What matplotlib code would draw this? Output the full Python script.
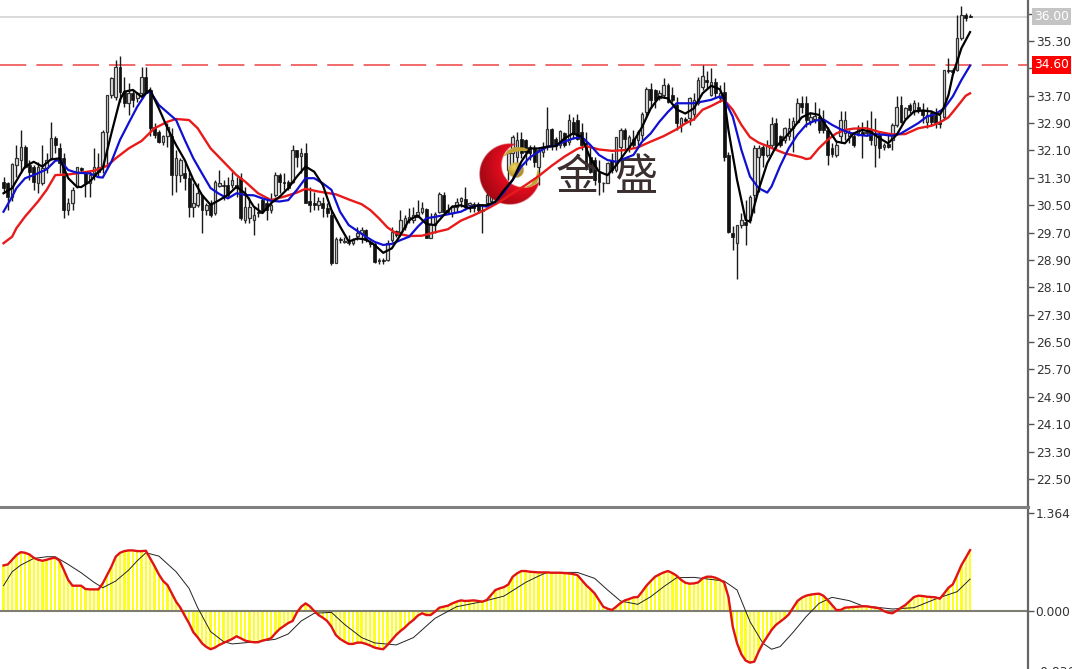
import numpy as np
import matplotlib
matplotlib.use("Agg")
from matplotlib import pyplot as plt
from matplotlib.patches import Polygon
from matplotlib.transforms import Affine2D, blended_transform_factory

# candles, one bar at a time
highs = [31.34,31.19,31.73,32.26,32.70,32.26,31.82,31.68,31.77,32.26,32.02,32.94,32.51,32.31,32.02,30.70,31.04,31.63,31.63,31.48,
 31.53,32.16,32.02,32.70,33.72,34.26,34.75,34.86,34.26,34.06,33.87,33.82,34.55,34.55,33.97,32.90,32.70,32.55,32.90,32.75,
 32.12,31.87,31.82,31.48,31.14,31.14,30.80,30.56,30.65,31.24,31.53,31.24,31.34,31.48,31.34,31.43,31.04,30.75,30.46,30.56,
 30.70,30.75,30.85,31.48,31.43,31.43,31.24,32.26,32.12,32.16,32.31,31.04,30.90,30.75,30.75,30.56,30.36,29.58,29.58,
 29.58,29.63,29.53,29.87,29.87,29.82,29.48,29.43,28.95,28.95,29.48,29.87,29.79,30.36,30.21,30.41,30.46,30.65,30.60,30.41,
 30.26,30.31,30.89,30.89,30.55,30.50,30.70,30.75,31.04,30.60,30.60,30.60,30.55,30.89,30.85,31.04,31.14,31.33,32.11,32.55,
 32.65,32.65,32.45,32.26,32.26,32.21,32.36,33.38,32.75,32.50,32.70,32.65,33.18,33.09,33.18,32.89,32.65,32.26,31.92,31.82,
 31.19,31.77,32.02,32.50,32.75,32.75,32.55,32.70,32.70,33.23,33.96,34.06,33.91,33.87,34.21,34.06,33.96,33.67,33.09,33.09,
 33.67,33.77,34.26,34.60,34.41,34.50,34.21,34.02,34.11,32.07,29.88,29.93,30.27,30.66,30.80,32.26,32.26,32.26,32.41,33.09,
 33.04,32.56,32.80,33.04,33.09,33.63,33.68,33.68,33.19,33.53,33.33,33.29,32.80,32.31,32.36,33.24,33.24,32.70,32.65,32.85,
 32.94,32.99,33.24,33.04,32.65,32.31,32.56,32.90,33.68,33.68,33.38,33.48,33.58,33.53,33.48,33.38,33.29,33.33,33.14,34.45,
 34.80,34.50,36.06,36.31,36.11,36.09]
lows = [30.85,30.36,30.61,31.34,31.43,31.58,31.24,30.95,30.85,31.09,31.43,31.82,32.02,31.43,30.12,30.22,30.36,31.00,31.43,30.75,
 30.75,31.24,31.34,31.43,31.58,33.63,33.58,33.53,33.38,33.14,33.38,33.53,33.63,33.77,32.51,32.46,32.31,32.26,32.21,30.80,
 30.90,31.19,30.95,30.17,30.17,30.46,29.68,30.22,30.17,30.22,31.04,30.65,30.75,31.00,30.75,30.07,29.97,29.97,29.63,30.17,
 30.27,30.07,30.27,30.75,30.85,30.95,30.95,31.14,31.63,31.43,30.56,30.31,30.36,30.36,30.17,30.17,28.76,28.80,29.39,
 29.39,29.34,29.34,29.48,29.39,29.43,29.29,28.82,28.78,28.78,28.88,29.43,29.58,29.68,29.77,29.97,29.97,30.16,30.24,29.53,
 29.53,29.68,30.26,30.24,30.26,30.16,30.31,30.46,30.36,30.31,30.31,30.26,29.68,30.55,30.55,30.60,30.65,30.94,31.24,31.53,
 31.72,31.87,31.67,31.82,31.63,31.09,31.92,32.11,32.11,32.11,32.16,32.21,32.26,32.45,32.40,32.11,31.53,31.43,31.09,30.80,
 30.89,31.14,31.43,31.48,31.72,32.11,32.06,32.21,32.21,32.40,33.09,33.33,33.33,33.57,33.62,33.48,33.52,32.70,32.65,32.89,
 32.84,32.99,33.43,33.87,33.92,33.68,33.63,33.53,31.78,29.68,29.19,28.34,29.83,29.34,29.97,30.27,30.90,31.63,31.92,32.21,
 32.12,32.21,32.31,32.41,32.07,32.90,33.19,32.80,32.85,32.90,32.60,32.60,31.68,31.92,31.92,32.31,32.41,32.31,32.21,32.51,
 31.87,32.51,32.26,31.63,31.87,32.12,32.17,32.12,32.80,32.90,32.99,33.19,33.14,33.19,32.90,32.75,32.85,32.75,32.75,32.99,
 34.36,34.36,34.41,35.33,35.87,35.99]
opens = [31.19,31.14,30.75,31.68,31.82,32.21,31.68,31.63,31.14,31.14,31.58,31.87,32.46,32.16,31.87,30.36,30.56,31.04,31.58,31.43,
 31.14,31.43,31.48,31.63,32.65,33.72,33.67,34.55,33.82,33.48,33.77,33.63,33.77,34.24,33.87,32.78,32.65,32.36,32.51,32.51,
 31.38,31.38,31.43,31.29,30.46,30.51,30.80,30.36,30.56,30.27,31.06,31.09,31.09,31.09,31.09,31.29,30.07,30.12,30.07,30.31,
 30.65,30.56,30.36,30.80,31.38,31.19,31.19,31.19,32.12,31.94,32.02,30.61,30.56,30.51,30.56,30.41,30.22,28.80,29.51,
 29.43,29.43,29.40,29.60,29.70,29.79,29.43,29.37,28.87,28.90,28.90,29.48,29.75,29.73,29.87,30.07,30.07,30.16,30.31,30.38,
 29.55,29.92,30.31,30.80,30.36,30.26,30.46,30.63,30.67,30.50,30.55,30.50,30.36,30.57,30.63,30.89,30.85,31.09,31.53,32.02,
 31.92,32.45,32.42,32.19,32.16,31.63,32.06,32.19,32.72,32.45,32.26,32.60,32.36,32.94,32.99,32.65,32.31,31.92,31.82,31.43,
 31.14,31.16,31.82,31.53,32.21,32.70,32.21,32.45,32.40,32.55,33.23,33.91,33.87,33.62,33.72,34.01,33.72,33.43,32.84,33.01,
 33.04,33.18,33.48,33.97,34.16,33.72,34.11,33.63,33.82,31.97,29.68,29.41,29.93,30.02,30.07,30.80,31.92,32.21,31.97,32.26,
 32.90,32.51,32.41,32.51,32.75,32.94,33.48,33.48,32.97,33.01,33.09,32.99,32.70,32.17,31.97,32.51,32.60,32.51,32.51,32.62,
 32.65,32.60,32.70,32.26,32.56,32.19,32.29,32.41,32.85,33.43,33.04,33.43,33.29,33.38,33.29,32.94,33.19,33.14,32.94,33.09,
 34.45,34.44,34.45,35.38,36.06,36.03]
closes = [31.00,30.75,31.71,31.87,32.21,31.63,31.48,31.19,31.63,31.58,31.82,32.46,32.26,31.73,30.36,30.56,30.95,31.61,31.53,31.14,
 31.38,31.63,31.63,32.65,33.72,34.21,34.55,33.82,33.48,33.77,33.58,33.77,34.24,33.82,32.75,32.55,32.36,32.53,32.78,31.38,
 31.87,31.82,31.29,30.46,30.56,30.85,30.36,30.51,30.22,31.19,31.14,31.07,30.80,31.24,31.00,30.12,30.46,30.46,30.22,30.27,
 30.36,30.36,30.51,31.38,31.19,31.14,31.00,32.12,31.92,32.04,30.56,30.51,30.51,30.61,30.41,30.27,28.80,29.51,29.49,
 29.46,29.41,29.48,29.68,29.79,29.48,29.37,28.85,28.90,28.88,29.40,29.73,29.63,30.07,30.12,30.16,30.21,30.31,30.41,29.55,
 29.95,30.24,30.83,30.31,30.31,30.46,30.60,30.70,30.44,30.57,30.41,30.36,30.32,30.80,30.77,30.70,31.04,31.28,32.02,32.50,
 32.40,32.02,32.06,32.02,31.77,32.11,32.21,32.72,32.26,32.23,32.68,32.26,32.99,32.60,32.45,32.26,31.58,31.48,31.24,31.19,
 31.16,31.74,31.53,32.50,32.70,32.45,32.50,32.26,32.65,33.18,33.91,33.57,33.57,33.77,34.01,33.52,33.57,32.89,33.04,32.97,
 33.62,33.57,34.16,34.28,34.11,34.11,33.77,33.77,31.92,29.73,29.57,29.93,30.07,29.93,30.75,32.17,32.17,31.97,32.26,32.88,
 32.26,32.26,32.75,32.75,32.97,33.50,33.38,32.99,33.09,33.11,32.70,32.70,31.97,32.00,32.26,32.99,32.99,32.65,32.26,32.72,
 32.56,32.65,32.41,32.56,32.17,32.26,32.21,32.85,33.38,32.94,33.33,33.29,33.48,33.29,33.14,33.14,32.94,32.90,32.88,34.44,
 34.41,34.38,35.38,36.06,35.96,36.01]

# moving averages, picked at every second or third bar
fast_bars = [0,2,4,5,7,9,11,13,14,15,17,18,20,22,23,25,27,28,30,32,34,36,38,40,42,44,46,48,50,52,54,56,58,60,62,64,66,68,70,72,74,76,78,80,
 82,84,86,88,90,92,94,96,98,100,102,104,106,108,110,112,114,116,118,120,122,124,126,128,130,132,134,136,138,140,142,144,146,148,150,152,154,156,158,160,
 162,164,166,167,168,170,172,173,175,177,179,181,183,185,187,189,191,193,195,197,199,201,203,205,207,209,211,213,215,217,218,219,220,221,222,224]
fast_ma = [30.85,31.00,31.43,31.63,31.77,31.63,31.84,31.87,31.58,31.29,31.04,31.03,31.19,31.48,31.58,32.60,33.58,33.82,33.87,33.67,33.87,33.33,32.75,32.26,31.82,31.24,30.80,30.51,30.65,30.80,31.04,30.85,30.46,30.27,30.56,30.75,31.00,31.34,31.63,31.48,31.09,30.36,29.88,29.44,
 29.53,29.50,29.34,29.11,29.24,29.63,30.07,30.20,29.95,29.92,30.21,30.46,30.50,30.41,30.50,30.50,30.60,30.94,31.24,31.77,32.16,32.16,32.21,32.23,32.45,32.60,32.50,31.87,31.48,31.38,31.67,32.02,32.36,32.79,33.33,33.67,33.62,33.30,33.18,33.33,
 33.77,33.99,33.89,33.63,32.70,31.24,30.07,30.02,30.95,31.73,32.21,32.46,32.75,33.07,33.19,33.14,32.75,32.36,32.31,32.60,32.70,32.65,32.46,32.31,32.56,32.99,33.24,33.27,33.24,33.14,33.38,33.72,34.31,34.70,35.09,35.56]

mid_bars = [0,2,3,5,7,10,12,13,15,17,20,22,23,25,27,29,31,33,34,36,38,40,42,44,46,48,50,52,54,56,58,60,62,64,66,68,70,72,74,76,78,80,82,
 84,86,88,90,92,94,96,98,100,102,104,106,108,110,112,114,116,118,120,122,124,126,128,130,132,134,136,138,140,142,144,146,148,150,152,154,156,158,160,
 162,164,166,167,169,171,173,175,177,178,180,182,184,186,188,190,192,194,196,198,200,202,204,206,208,210,212,214,216,218,220,222,224]
mid_ma = [30.31,30.75,31.00,31.29,31.38,31.55,31.80,31.82,31.53,31.45,31.43,31.32,31.31,31.77,32.41,32.90,33.38,33.77,33.82,33.43,33.21,32.99,32.41,31.87,31.43,31.00,30.83,30.70,30.85,30.80,30.79,30.70,30.63,30.61,30.65,30.95,31.29,31.29,31.14,30.95,30.31,29.92,29.75,
 29.58,29.43,29.34,29.37,29.48,29.58,29.87,30.12,30.16,30.21,30.26,30.31,30.44,30.50,30.46,30.60,30.89,31.24,31.63,31.90,32.06,32.21,32.24,32.36,32.45,32.50,32.26,31.97,31.82,31.77,31.87,31.97,32.36,32.60,32.94,33.23,33.48,33.48,33.48,
 33.53,33.58,33.68,33.60,33.09,32.12,31.34,31.00,30.87,31.05,31.65,32.17,32.56,32.85,32.97,33.01,32.85,32.72,32.62,32.56,32.53,32.58,32.56,32.53,32.60,32.75,32.90,33.09,33.17,33.33,33.68,34.16,34.58]

slow_bars = [0,2,3,5,8,10,12,15,18,21,24,26,29,32,35,38,40,43,45,48,51,54,56,59,62,65,68,70,73,77,80,83,
 85,87,89,91,94,97,100,103,106,109,112,115,118,121,124,127,130,133,135,138,141,144,147,150,153,156,158,160,
 162,164,166,167,169,171,173,175,177,179,181,183,185,186,187,189,191,193,195,197,200,203,206,209,212,215,217,219,221,223,224]
slow_ma = [29.39,29.58,29.83,30.17,30.61,30.95,31.38,31.40,31.45,31.51,31.65,31.87,32.16,32.38,32.75,32.94,33.02,32.99,32.75,32.16,31.77,31.38,31.19,30.85,30.65,30.75,30.87,30.98,30.90,30.82,30.67,30.53,
 30.36,30.12,29.85,29.68,29.60,29.61,29.71,29.80,30.05,30.21,30.39,30.60,30.85,31.09,31.35,31.65,31.92,32.15,32.23,32.13,32.09,32.11,32.19,32.36,32.52,32.72,32.89,33.01,
 33.29,33.40,33.53,33.58,33.29,32.85,32.49,32.33,32.23,32.12,32.02,31.96,31.90,31.85,31.87,32.17,32.41,32.60,32.70,32.74,32.75,32.64,32.57,32.58,32.75,32.82,32.92,33.07,33.38,33.70,33.77]

# lower panel
macd = [.634,.648,.713,.778,.819,.810,.787,.741,.713,.699,.713,.731,.741,.699,.569,.431,.352,.352,.352,.306,.301,.301,.301,.384,.500,
 .616,.755,.810,.833,.843,.843,.833,.833,.838,.731,.625,.509,.417,.361,.245,.130,.046,-.065,-.171,-.296,-.366,-.449,-.500,-.532,-.509,
 -.472,-.444,-.417,-.389,-.352,-.380,-.412,-.426,-.435,-.435,-.412,-.398,-.380,-.310,-.250,-.208,-.167,-.139,-.019,.060,.106,.065,0,-.056,-.093,
 -.139,-.218,-.333,-.389,-.426,-.458,-.458,-.440,-.440,-.458,-.481,-.509,-.523,-.532,-.472,-.403,-.333,-.278,-.231,-.171,-.125,-.065,-.032,-.056,-.056,
 -.009,.046,.060,.074,.106,.130,.148,.139,.144,.148,.139,.130,.153,.222,.292,.315,.333,.370,.477,.523,.556,.556,.546,.542,.537,
 .537,.537,.532,.532,.532,.528,.523,.514,.500,.431,.361,.306,.245,.153,.060,.032,.014,.060,.111,.148,.167,.190,.194,.269,.352,
 .417,.477,.509,.537,.556,.528,.491,.435,.394,.380,.384,.398,.454,.477,.477,.463,.435,.398,.199,-.218,-.449,-.602,-.690,-.718,-.704,
 -.565,-.449,-.356,-.264,-.194,-.148,-.102,-.046,.046,.139,.185,.213,.227,.236,.241,.213,.153,.083,.014,.014,.046,.051,.056,.060,.065,
 .065,.056,.046,.037,0,-.023,-.032,.005,.046,.083,.139,.194,.213,.208,.199,.194,.190,.171,.245,.324,.370,.500,.639,.741,.847]
signal_bars = [0,2,4,7,10,12,15,18,21,23,26,29,31,33,36,40,43,45,48,51,53,58,63,66,69,72,76,79,83,86,91,95,100,105,111,116,121,124,
 126,133,137,140,143,147,150,153,156,160,167,170,173,176,178,180,183,186,189,192,196,199,206,211,216,221,224]
signal = [.352,.546,.639,.731,.755,.755,.648,.532,.398,.324,.417,.569,.699,.810,.764,.546,.315,.046,-.287,-.426,-.458,-.431,-.394,-.319,-.139,-.032,-.019,-.185,-.370,-.444,-.472,-.370,-.102,.060,.130,.208,.398,.486,
 .537,.537,.454,.292,.139,.093,.199,.338,.463,.468,.417,.292,-.148,-.449,-.532,-.495,-.296,-.079,.106,.190,.144,.074,.028,.046,.167,.269,.444]

price_ticks = [36.10,35.30,34.50,33.70,32.90,32.10,31.30,30.50,29.70,28.90,28.10,27.30,26.50,25.70,24.90,24.10,23.30,22.50]
macd_ticks = [1.364,0.000]
last_price = 36.00
level_price = 34.60

W, H = 1072, 669
BAR_PX = 4.315
X0_PX = 3.5
xlim = (-X0_PX / BAR_PX, (1028 - X0_PX) / BAR_PX)

fig = plt.figure(figsize=(W / 100, H / 100), dpi=100, facecolor="white")
ax = fig.add_axes([0, (H - 505) / H, 1028 / W, 505 / H])
ax2 = fig.add_axes([0, 0, 1028 / W, (H - 507) / H])

# pixel coords of the picture, origin top left, for the logo and the price boxes
pix = Affine2D().scale(1 / W, -1 / H).translate(0, 1) + fig.transFigure

ylim = (21.74, 36.498)
ax.set_xlim(xlim)
ax.set_ylim(ylim)

bars = np.arange(len(closes))
o = np.array(opens)
c = np.array(closes)
up = c >= o
ax.vlines(bars, lows, highs, color="#1a1a1a", lw=1.0, zorder=2)
ax.bar(bars[up], (c - o)[up], bottom=o[up], width=0.58, color="#e6e6e6", edgecolor="#333333", linewidth=0.9, zorder=2.2)
ax.bar(bars[~up], (c - o)[~up], bottom=o[~up], width=0.68, color="#111111", edgecolor="#111111", linewidth=0.5, zorder=2.2)

ax.axhline(last_price, color="#cfcfcf", lw=1.1, zorder=1)
ax.axhline(level_price, color="#f06a6a", lw=1.4, dashes=(13.5, 5.2), zorder=1.5)

# logo: crescent and ball as small rgba images, swooshes as polygons
def logo_image(x0, x1, y0, y1, rgba):
    ext = [xlim[0] + x0 / BAR_PX, xlim[0] + x1 / BAR_PX,
           ylim[1] - y1 * (ylim[1] - ylim[0]) / 505, ylim[1] - y0 * (ylim[1] - ylim[0]) / 505]
    ax.imshow(rgba, extent=ext, aspect="auto", zorder=3, interpolation="bilinear", origin="upper")

gx, gy = np.meshgrid(np.linspace(475, 545, 280), np.linspace(139, 209, 280))
d_out = np.hypot(gx - 510, gy - 174)
d_in = np.hypot(gx - 524, gy - 165)
t = np.clip((d_in - 22) / 32, 0, 1)[..., None]
rgb = (1 - t) * np.array([0.90, 0.05, 0.12]) + t * np.array([0.55, 0.02, 0.06])
alpha = np.clip(31 - d_out, 0, 1) * np.clip(d_in - 22, 0, 1)
logo_image(475, 545, 139, 209, np.dstack([rgb, alpha]))

gx, gy = np.meshgrid(np.linspace(506, 526, 80), np.linspace(160, 180, 80))
d = np.hypot(gx - 516, gy - 170)
t = np.clip(np.hypot(gx - 514, gy - 167) / 11, 0, 1)[..., None]
rgb = (1 - t) * np.array([0.93, 0.84, 0.38]) + t * np.array([0.66, 0.52, 0.10])
logo_image(506, 526, 160, 180, np.dstack([rgb, np.clip(8.3 - d, 0, 1)]))

swoosh_top = [(503, 157), (508, 150), (515, 147), (524, 147.5), (531, 151), (522, 151), (514, 152), (508, 154)]
swoosh_low = [(524, 188), (531, 184), (536, 177), (538, 168), (540, 176), (537, 183), (531, 187)]
ax.add_patch(Polygon(swoosh_top, closed=True, transform=pix, color="#c2a434", lw=0, zorder=3.1))
ax.add_patch(Polygon(swoosh_low, closed=True, transform=pix, color="#c2a434", lw=0, zorder=3.1))
for ch, xp in zip("金盛", (577, 636)):
    ax.text(xp, 178, ch, transform=pix, ha="center", va="center", fontsize=31, color="#3a2e2e",
            family=["Noto Sans CJK SC", "DejaVu Sans"], fontweight="light", zorder=3.2)

ax.plot(slow_bars, slow_ma, color="#e81a1a", lw=1.7, zorder=4, solid_joinstyle="round")
ax.plot(mid_bars, mid_ma, color="#1010d0", lw=1.6, zorder=4.1, solid_joinstyle="round")
ax.plot(fast_bars, fast_ma, color="black", lw=1.6, zorder=4.2, solid_joinstyle="round")

ax.set_yticks(price_ticks)
ax.set_yticklabels(["%.2f" % p for p in price_ticks])
ax.set_xticks([])

ax2.set_xlim(xlim)
ax2.set_ylim(-0.807, 1.447)
ax2.bar(bars, macd, width=0.55, color="#ffff1e", linewidth=0, zorder=1)
ax2.axhline(0, color="#7d7d70", lw=1.5, zorder=2)
ax2.plot(signal_bars, signal, color="#222222", lw=0.7, zorder=3)
ax2.plot(bars, macd, color="#e01414", lw=1.7, zorder=4, solid_joinstyle="round")
ax2.set_yticks(macd_ticks)
ax2.set_yticklabels(["%.3f" % v for v in macd_ticks])
ax2.set_xticks([])
ax2.text(1.0, -0.86, "  -0.836", transform=blended_transform_factory(ax2.transAxes, ax2.transData),
         ha="left", va="center", fontsize=8.8, color="#333333", clip_on=False)

for a in (ax, ax2):
    a.yaxis.tick_right()
    a.tick_params(axis="y", direction="out", length=4, width=1.0, color="#555555",
                  labelsize=8.8, labelcolor="#333333", pad=1.5)
    for s in ("left", "top", "bottom"):
        a.spines[s].set_visible(False)
    a.spines["right"].set_color("#666666")
    a.spines["right"].set_linewidth(1.6)
ax2.spines["top"].set_visible(True)
ax2.spines["top"].set_color("#808080")
ax2.spines["top"].set_linewidth(2.2)

# boxes for the last price and the marked level, over the axis labels
ax.text(1051.5, 16.5, "%.2f" % last_price, transform=pix, ha="center", va="center", fontsize=8.8, color="white",
        clip_on=False, zorder=6, bbox=dict(boxstyle="square,pad=0.17", fc="#c4c4c4", ec="none"))
ax.text(1051.5, 65, "%.2f" % level_price, transform=pix, ha="center", va="center", fontsize=8.8, color="white",
        clip_on=False, zorder=6, bbox=dict(boxstyle="square,pad=0.17", fc="#ff0000", ec="none"))

fig.savefig("out.png", dpi=100, facecolor="white")
